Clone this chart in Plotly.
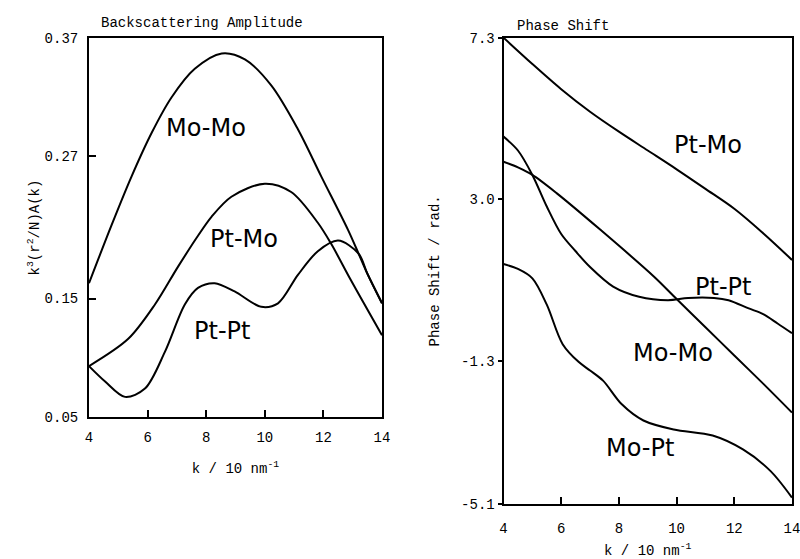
import plotly.graph_objects as go
from plotly.subplots import make_subplots

# ---- Backscattering amplitude, k^3 (r^2/N) A(k) ----
k_momo_a = [4.0, 4.77, 5.45, 6.14, 6.82, 7.61, 8.53, 9.32, 10.22, 11.13, 11.93, 12.84, 13.2, 13.5, 14.0]
a_momo = [0.163, 0.212, 0.253, 0.290, 0.320, 0.344, 0.357, 0.352, 0.330, 0.293, 0.253, 0.208, 0.188, 0.171, 0.146]

k_ptmo_a = [4.0, 5.34, 6.25, 7.04, 7.72, 8.18, 8.86, 10.0, 10.9, 11.81, 12.27, 12.95, 14.0]
a_ptmo = [0.093, 0.116, 0.145, 0.177, 0.203, 0.219, 0.236, 0.247, 0.240, 0.214, 0.196, 0.165, 0.119]

k_ptpt_a = [4.0, 4.55, 5.23, 5.91, 6.59, 7.27, 7.72, 8.29, 8.97, 9.88, 10.45, 11.13, 11.81, 12.5, 13.2, 13.5, 14.0]
a_ptpt = [0.093, 0.080, 0.067, 0.074, 0.105, 0.145, 0.159, 0.163, 0.156, 0.143, 0.146, 0.170, 0.190, 0.199, 0.188, 0.171, 0.146]

# ---- Phase shift / rad ----
k_ptmo_p = [4.0, 5.0, 6.0, 7.0, 8.0, 9.0, 10.0, 11.0, 12.0, 13.0, 14.0]
p_ptmo = [7.3, 6.6, 5.93, 5.33, 4.8, 4.3, 3.8, 3.28, 2.75, 2.1, 1.39]

k_ptpt_p = [4.0, 4.5, 5.0, 5.5, 6.0, 6.5, 7.0, 7.8, 8.7, 9.7, 10.4, 11.3, 11.8, 12.5, 13.0, 13.5, 14.0]
p_ptpt = [4.67, 4.3, 3.65, 2.81, 2.08, 1.62, 1.2, 0.68, 0.41, 0.32, 0.38, 0.38, 0.32, 0.1, -0.05, -0.3, -0.56]

k_momo_p = [4.0, 4.5, 5.0, 5.85, 7.36, 9.21, 10.0, 11.0, 12.0, 13.0, 14.0]
p_momo = [4.0, 3.85, 3.65, 3.16, 2.19, 0.95, 0.35, -0.4, -1.15, -1.9, -2.67]

k_mopt_p = [4.0, 4.5, 5.0, 5.5, 6.05, 6.6, 7.0, 7.45, 8.1, 8.85, 9.9, 11.25, 12.3, 13.25, 14.0]
p_mopt = [1.28, 1.15, 0.9, 0.2, -0.85, -1.32, -1.55, -1.82, -2.45, -2.88, -3.12, -3.28, -3.65, -4.22, -4.93]

amp_ticks = [0.05, 0.15, 0.27, 0.37]
phase_ticks = [-5.1, -1.3, 3.0, 7.3]
k_ticks = [4, 6, 8, 10, 12, 14]

MONO = "Liberation Mono"
SANS = "DejaVu Sans"
line = dict(color="black", width=2, shape="spline", smoothing=0.9)
title_font = dict(family=MONO, size=14, color="black")

fig = make_subplots(rows=1, cols=2)

for kx, vy in [(k_momo_a, a_momo), (k_ptmo_a, a_ptmo), (k_ptpt_a, a_ptpt)]:
    fig.add_trace(go.Scatter(x=kx, y=vy, mode="lines", line=line, showlegend=False), row=1, col=1)
for kx, vy in [(k_ptmo_p, p_ptmo), (k_ptpt_p, p_ptpt), (k_momo_p, p_momo), (k_mopt_p, p_mopt)]:
    fig.add_trace(go.Scatter(x=kx, y=vy, mode="lines", line=line, showlegend=False), row=1, col=2)

axis_common = dict(showline=True, linecolor="black", linewidth=2, mirror=True, automargin=False,
                   showgrid=False, zeroline=False, tickwidth=2, tickcolor="black",
                   ticklabeloverflow="allow",
                   tickfont=dict(family=MONO, size=14, color="black"))

fig.update_layout(
    width=800, height=559, margin=dict(l=0, r=0, t=0, b=0, autoexpand=False),
    paper_bgcolor="white", plot_bgcolor="white",
    xaxis=dict(domain=[0.11125, 0.4775], range=[4, 14], tickvals=k_ticks, ticks="inside",
               ticklen=7, ticklabelstandoff=6,
               title=dict(text="k / 10 nm<sup>-1</sup>", font=title_font, standoff=18),
               **axis_common),
    yaxis=dict(domain=[0.254, 0.932], range=[0.05, 0.37], tickvals=amp_ticks,
               ticktext=["0.05", "0.15", "0.27", "0.37"], ticks="inside", ticklen=7,
               ticklabelstandoff=6,
               title=dict(text="k<sup>3</sup>(r<sup>2</sup>/N)A(k)", font=title_font, standoff=2),
               **axis_common),
    xaxis2=dict(domain=[0.6294, 0.99], range=[4, 14], tickvals=k_ticks, ticks="inside",
                ticklen=7, ticklabelstandoff=10,
                title=dict(text="k / 10 nm<sup>-1</sup>", font=title_font, standoff=16),
                **axis_common),
    yaxis2=dict(domain=[0.0984, 0.9326], range=[-5.1, 7.3], tickvals=phase_ticks,
                ticktext=["-5.1", "-1.3", "3.0", "7.3"], ticks="outside", ticklen=4,
                title=dict(text="Phase Shift / rad.", font=title_font, standoff=18),
                **axis_common),
)

# panel headings
fig.add_annotation(text="Backscattering Amplitude", xref="paper", yref="paper",
                   x=99 / 800, y=1 - 13 / 559, xanchor="left", yanchor="top", showarrow=False,
                   font=dict(family=MONO, size=14, color="black"))
fig.add_annotation(text="Phase Shift", xref="paper", yref="paper",
                   x=515 / 800, y=1 - 16 / 559, xanchor="left", yanchor="top", showarrow=False,
                   font=dict(family=MONO, size=14, color="black"))

# curve labels
labels = [
    ("Mo-Mo", 206, 128),
    ("Pt-Mo", 244, 239),
    ("Pt-Pt", 222, 331),
    ("Pt-Mo", 708, 145),
    ("Pt-Pt", 723, 287),
    ("Mo-Mo", 673, 353),
    ("Mo-Pt", 640, 448),
]
for txt, px, py in labels:
    fig.add_annotation(text=txt, xref="paper", yref="paper", x=px / 800, y=1 - py / 559,
                       xanchor="center", yanchor="middle", showarrow=False,
                       font=dict(family=SANS, size=24, color="black"))

fig.write_html("out.html")
